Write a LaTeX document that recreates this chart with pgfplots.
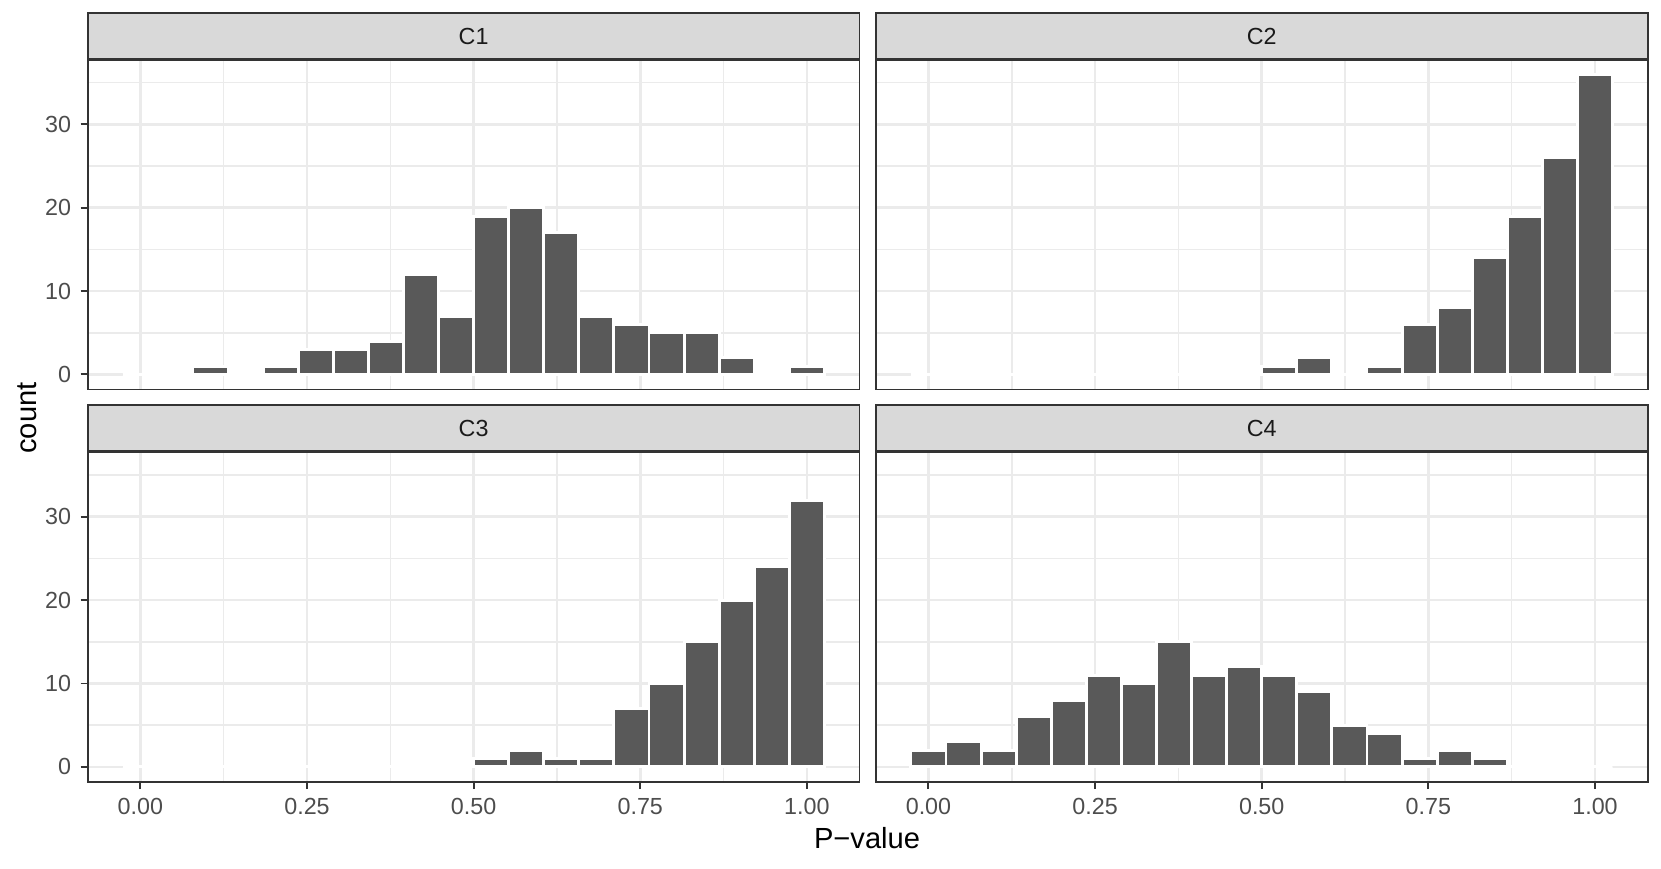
\documentclass[border=0pt]{standalone}
\usepackage{pgfplots}
\pgfplotsset{compat=1.18}
\usepackage{fontspec}
\setmainfont{Liberation Sans}
\definecolor{g92}{HTML}{EBEBEB}
\definecolor{g85}{HTML}{D9D9D9}
\definecolor{g20}{HTML}{333333}
\definecolor{g30}{HTML}{4D4D4D}
\definecolor{g10}{HTML}{1A1A1A}
\definecolor{bar35}{HTML}{595959}
\pgfplotsset{
  facet/.style={
    scale only axis, width=291.47pt, height=124.72pt, anchor=north west,
    xmin=-0.0789, xmax=1.0789, ymin=-1.8, ymax=37.8,
    xtick={0,0.25,0.5,0.75,1}, ytick={0,10,20,30},
    minor xtick={0.125,0.375,0.625,0.875}, minor ytick={5,15,25,35},
    grid=both,
    major grid style={color=g92, line width=1.0pt},
    minor grid style={color=g92, line width=0.6pt},
    axis line style={color=g20, line width=0.7pt},
    tick align=outside, major tick length=2.75pt, minor tick length=0pt,
    tick style={color=g20, line width=0.75pt},
    xtick pos=bottom, ytick pos=left,
    xticklabels={0.00,0.25,0.50,0.75,1.00}, yticklabels={0,10,20,30},
    ticklabel style={font=\fontsize{8.8}{10}\selectfont, color=g30},
  },
  notx/.style={xticklabels={}, xtick style={draw=none}},
  noty/.style={yticklabels={}, ytick style={draw=none}},
  hbar/.style={ybar, bar width=0.05263, fill=bar35, draw=white, line width=1.1pt},
}
\begin{document}
\begin{tikzpicture}
\useasboundingbox (0,0) rectangle (627.37pt,-328.22pt);
% C1
\begin{axis}[facet, notx, name=c1, at={(33.16pt,-22.40pt)}]
\addplot[hbar] coordinates {
(0,0) (0.05263,0) (0.10526,1) (0.15789,0) (0.21053,1) (0.26316,3) (0.31579,3) (0.36842,4) (0.42105,12) (0.47368,7)
(0.52632,19) (0.57895,20) (0.63158,17) (0.68421,7) (0.73684,6) (0.78947,5) (0.84211,5) (0.89474,2) (0.94737,0) (1,1)};
\end{axis}
% C2
\begin{axis}[facet, notx, noty, name=c2, at={(330.83pt,-22.40pt)}]
\addplot[hbar] coordinates {
(0,0) (0.05263,0) (0.10526,0) (0.15789,0) (0.21053,0) (0.26316,0) (0.31579,0) (0.36842,0) (0.42105,0) (0.47368,0)
(0.52632,1) (0.57895,2) (0.63158,0) (0.68421,1) (0.73684,6) (0.78947,8) (0.84211,14) (0.89474,19) (0.94737,26) (1,36)};
\end{axis}
% C3
\begin{axis}[facet, name=c3, at={(33.16pt,-170.61pt)}]
\addplot[hbar] coordinates {
(0,0) (0.05263,0) (0.10526,0) (0.15789,0) (0.21053,0) (0.26316,0) (0.31579,0) (0.36842,0) (0.42105,0) (0.47368,0)
(0.52632,1) (0.57895,2) (0.63158,1) (0.68421,1) (0.73684,7) (0.78947,10) (0.84211,15) (0.89474,20) (0.94737,24) (1,32)};
\end{axis}
% C4
\begin{axis}[facet, noty, name=c4, at={(330.83pt,-170.61pt)}]
\addplot[hbar] coordinates {
(0,2) (0.05263,3) (0.10526,2) (0.15789,6) (0.21053,8) (0.26316,11) (0.31579,10) (0.36842,15) (0.42105,11) (0.47368,12)
(0.52632,11) (0.57895,9) (0.63158,5) (0.68421,4) (0.73684,1) (0.78947,2) (0.84211,1) (0.89474,0) (0.94737,0) (1,0)};
\end{axis}
% strips
\foreach \n/\lab in {c1/C1,c2/C2,c3/C3,c4/C4}{
  \draw[fill=g85, draw=g20, line width=0.7pt] (\n.north west) rectangle ([yshift=17.6pt]\n.north east);
  \draw[g20, line width=1.0pt] (\n.north west) -- (\n.north east);
  \node[font=\fontsize{8.8}{10}\selectfont, text=g10] at ([yshift=8.8pt]\n.north) {\lab};
}
\node[font=\fontsize{11}{13}\selectfont, rotate=90] at (10.2pt,-157.9pt) {count};
\node[font=\fontsize{11}{13}\selectfont, anchor=base] at (327.5pt,-320.3pt) {P−value};
\end{tikzpicture}
\end{document}
